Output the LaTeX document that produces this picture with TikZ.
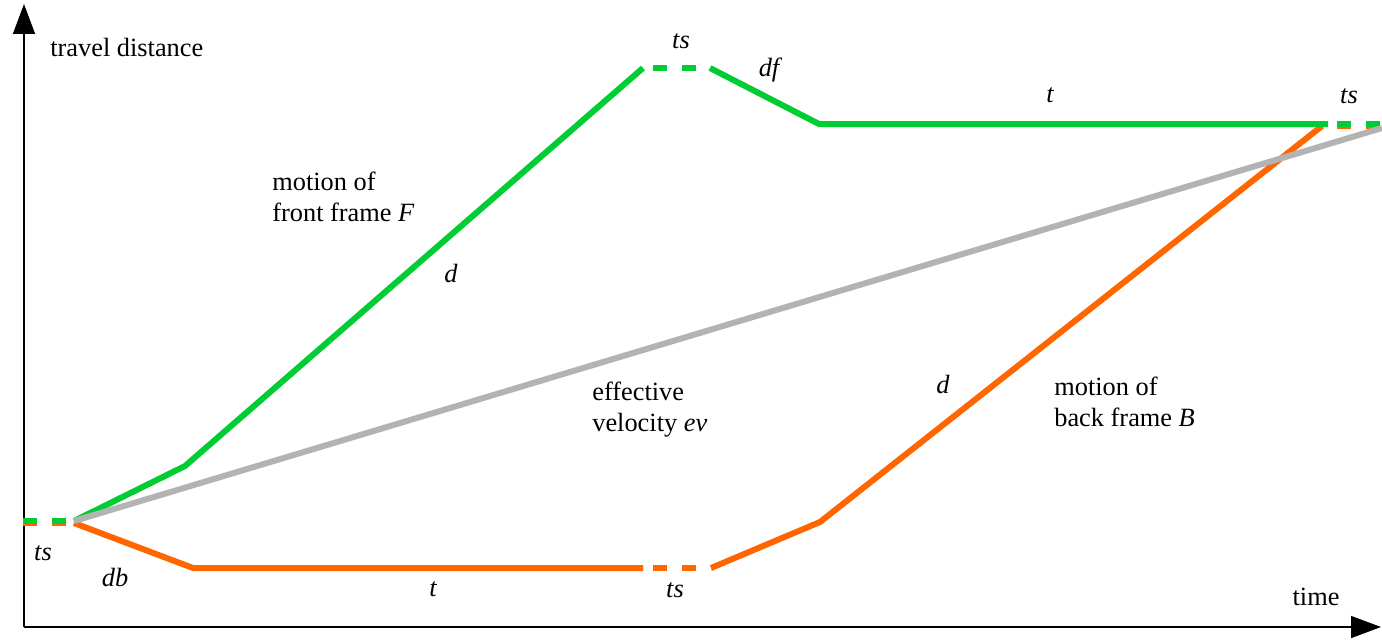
\documentclass[tikz,border=0pt]{standalone}
\usepackage{fontspec}
\setmainfont{Liberation Serif}
\usepackage{xcolor}
\usepackage{tikz}
\usetikzlibrary{arrows.meta}
\definecolor{framegreen}{HTML}{00CC33}
\definecolor{frameorange}{HTML}{FF6600}
\definecolor{evgray}{HTML}{B3B3B3}

\begin{document}
\begin{tikzpicture}[x=0.02cm, y=-0.02cm,
    every node/.style={font=\fontsize{15pt}{17.6pt}\selectfont, inner sep=0pt},
    lbl/.style={font=\fontsize{15pt}{17.6pt}\selectfont\itshape},
    axisline/.style={line width=0.85pt, -{Triangle[length=0.6cm, width=0.44cm]}},
    motion/.style={line width=0.12cm},
    tsdash/.style={motion, dash pattern=on 0.28cm off 0.3cm}]
  \useasboundingbox (0,0) rectangle (1382,643);

  % axes
  \coordinate (origin) at (24,627);
  \coordinate (ytop) at (24,4);
  \coordinate (xend) at (1381,627);
  \draw[axisline] (origin) -- (ytop);
  \draw[axisline] (origin) -- (xend);
  \node[anchor=west] (ylabel) at (50,47) {travel distance};
  \node (xlabel) at (1316,597) {time};

  % points of the back frame
  \coordinate (b0) at (23,523);
  \coordinate (b1) at (74,523);
  \coordinate (b2) at (193,568);
  \coordinate (b3) at (643,568);
  \coordinate (b4) at (711,568);
  \coordinate (b5) at (820,522);
  \coordinate (b6) at (1322,126);
  \coordinate (b7) at (1328,126);
  \coordinate (b8) at (1382,126);

  % points of the front frame
  \coordinate (f0) at (23,521);
  \coordinate (f1) at (74,521);
  \coordinate (f2) at (185,466);
  \coordinate (f3) at (643,68);
  \coordinate (f4) at (710,68);
  \coordinate (f5) at (819,124);
  \coordinate (f6) at (1328,124);
  \coordinate (f7) at (1382,124);

  % effective velocity
  \coordinate (e0) at (74,521);
  \coordinate (e1) at (1382,128);

  % back frame B
  \draw[tsdash, frameorange] (b0) -- (b1);
  \draw[motion, frameorange] (b1) -- (b2) -- (b3);
  \draw[tsdash, frameorange, dash phase=0.38cm] (b3) -- (b4);
  \draw[motion, frameorange] (b4) -- (b5) -- (b6);
  \draw[tsdash, frameorange, dash phase=0.4cm] (b7) -- (b8);

  % front frame F
  \draw[tsdash, framegreen] (f0) -- (f1);
  \draw[motion, framegreen] (f1) -- (f2) -- (f3);
  \draw[tsdash, framegreen, dash phase=0.38cm] (f3) -- (f4);
  \draw[motion, framegreen] (f4) -- (f5) -- (f6);
  \draw[tsdash, framegreen, dash phase=0.4cm] (f6) -- (f7);

  \draw[motion, evgray] (e0) -- (e1);

  % labels
  \node[lbl] (tsleft) at (43,553) {ts};
  \node[lbl] (dblbl) at (115,577) {db};
  \node[lbl] (tlow) at (433,589) {t};
  \node[lbl] (tslow) at (675,590) {ts};
  \node[lbl] (dup) at (451,273) {d};
  \node[lbl] (tstop) at (681,41) {ts};
  \node[lbl] (dflbl) at (769,70) {df};
  \node[lbl] (ttop) at (1050,95) {t};
  \node[lbl] (tsright) at (1349,96) {ts};
  \node[lbl] (dlow) at (943,384) {d};

  \node[anchor=west, align=left] (frontlbl) at (272,197) {motion of\\front frame \textit{F}};
  \node[anchor=west, align=left] (evlbl) at (592,410) {effective\\velocity \textit{ev}};
  \node[anchor=west, align=left] (backlbl) at (1054,402) {motion of\\back frame \textit{B}};
\end{tikzpicture}
\end{document}
